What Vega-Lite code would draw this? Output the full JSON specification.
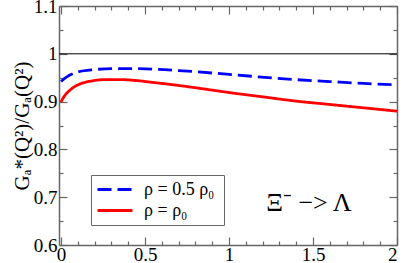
{
  "$schema": "https://vega.github.io/schema/vega-lite/v6.json",
  "width": 338,
  "height": 239,
  "autosize": "none",
  "padding": {"left": 59, "top": 6, "right": 5, "bottom": 18},
  "background": "white",
  "config": {
    "view": {"stroke": null},
    "font": "Liberation Serif",
    "axis": {
      "grid": false,
      "domainColor": "#666666",
      "tickColor": "#666666",
      "domainWidth": 1.5,
      "tickWidth": 1.2,
      "labelFont": "Liberation Serif",
      "titleFont": "Liberation Serif",
      "labelColor": "black",
      "titleColor": "black",
      "labelFontSize": 19,
      "titleFontSize": 21,
      "titleFontWeight": "normal"
    },
    "legend": {"labelFont": "Liberation Serif"}
  },
  "datasets": {
    "curves": [
      {"x": 0.0, "y": 0.942, "series": "ρ =  0.5 ρ₀"},
      {"x": 0.02, "y": 0.948, "series": "ρ =  0.5 ρ₀"},
      {"x": 0.05, "y": 0.955, "series": "ρ =  0.5 ρ₀"},
      {"x": 0.1, "y": 0.962, "series": "ρ =  0.5 ρ₀"},
      {"x": 0.2, "y": 0.967, "series": "ρ =  0.5 ρ₀"},
      {"x": 0.3, "y": 0.969, "series": "ρ =  0.5 ρ₀"},
      {"x": 0.4, "y": 0.969, "series": "ρ =  0.5 ρ₀"},
      {"x": 0.55, "y": 0.968, "series": "ρ =  0.5 ρ₀"},
      {"x": 0.7, "y": 0.965, "series": "ρ =  0.5 ρ₀"},
      {"x": 1.0, "y": 0.957, "series": "ρ =  0.5 ρ₀"},
      {"x": 1.35, "y": 0.947, "series": "ρ =  0.5 ρ₀"},
      {"x": 1.6, "y": 0.942, "series": "ρ =  0.5 ρ₀"},
      {"x": 1.8, "y": 0.938, "series": "ρ =  0.5 ρ₀"},
      {"x": 2.0, "y": 0.935, "series": "ρ =  0.5 ρ₀"},
      {"x": 0.0, "y": 0.899, "series": "ρ =  ρ₀"},
      {"x": 0.01, "y": 0.906, "series": "ρ =  ρ₀"},
      {"x": 0.03, "y": 0.916, "series": "ρ =  ρ₀"},
      {"x": 0.05, "y": 0.923, "series": "ρ =  ρ₀"},
      {"x": 0.08, "y": 0.931, "series": "ρ =  ρ₀"},
      {"x": 0.12, "y": 0.938, "series": "ρ =  ρ₀"},
      {"x": 0.18, "y": 0.943, "series": "ρ =  ρ₀"},
      {"x": 0.26, "y": 0.946, "series": "ρ =  ρ₀"},
      {"x": 0.35, "y": 0.946, "series": "ρ =  ρ₀"},
      {"x": 0.45, "y": 0.944, "series": "ρ =  ρ₀"},
      {"x": 0.55, "y": 0.940, "series": "ρ =  ρ₀"},
      {"x": 0.65, "y": 0.936, "series": "ρ =  ρ₀"},
      {"x": 0.8, "y": 0.929, "series": "ρ =  ρ₀"},
      {"x": 1.0, "y": 0.919, "series": "ρ =  ρ₀"},
      {"x": 1.2, "y": 0.910, "series": "ρ =  ρ₀"},
      {"x": 1.4, "y": 0.901, "series": "ρ =  ρ₀"},
      {"x": 1.6, "y": 0.894, "series": "ρ =  ρ₀"},
      {"x": 1.8, "y": 0.887, "series": "ρ =  ρ₀"},
      {"x": 2.0, "y": 0.880, "series": "ρ =  ρ₀"}
    ],
    "ref": [{"y": 1.0}],
    "note": [{"x": 1.476, "y": 0.688, "label": "Ξ⁻ −> Λ"}]
  },
  "resolve": {"axis": {"x": "independent", "y": "independent"}},
  "layer": [
    {
      "data": {"name": "ref"},
      "mark": {"type": "rule", "color": "black", "strokeWidth": 1},
      "encoding": {
        "y": {"field": "y", "type": "quantitative", "axis": null}
      }
    },
    {
      "data": {"name": "curves"},
      "mark": {"type": "line", "strokeWidth": 2.8, "interpolate": "monotone"},
      "encoding": {
        "x": {
          "field": "x", "type": "quantitative",
          "scale": {"domain": [-0.012, 2], "nice": false, "zero": false},
          "axis": {"orient": "bottom", "values": [0, 0.5, 1, 1.5, 2], "tickSize": -8, "labelPadding": 8, "format": "~g", "title": null, "labelFont": "Liberation Serif", "labelFontSize": 19}
        },
        "y": {
          "field": "y", "type": "quantitative",
          "scale": {"domain": [0.6, 1.1], "nice": false, "zero": false},
          "axis": {"orient": "left", "values": [0.6, 0.7, 0.8, 0.9, 1, 1.1], "tickSize": -8, "labelPadding": 10, "format": "~g", "title": "Gₐ*(Q²)/Gₐ(Q²)", "titlePadding": 1, "labelFont": "Liberation Serif", "labelFontSize": 19, "titleFont": "Liberation Serif", "titleFontSize": 21}
        },
        "color": {
          "field": "series", "type": "nominal",
          "scale": {"domain": ["ρ =  0.5 ρ₀", "ρ =  ρ₀"], "range": ["#0000ff", "#ff0000"]},
          "legend": {"orient": "none", "legendX": 32, "legendY": 169, "title": null, "symbolType": "stroke", "symbolSize": 1225, "symbolStrokeWidth": 2.8, "labelFont": "Liberation Serif", "labelFontSize": 18, "labelColor": "black", "strokeColor": "#666666", "padding": 5, "clipHeight": 19, "rowPadding": 2, "labelOffset": 10}
        },
        "strokeDash": {
          "field": "series", "type": "nominal",
          "scale": {"domain": ["ρ =  0.5 ρ₀", "ρ =  ρ₀"], "range": [[14, 6], [1, 0]]},
          "legend": {"orient": "none", "legendX": 32, "legendY": 169, "title": null, "symbolType": "stroke", "symbolSize": 1225, "symbolStrokeWidth": 2.8, "labelFont": "Liberation Serif", "labelFontSize": 18, "labelColor": "black", "strokeColor": "#666666", "padding": 5, "clipHeight": 19, "rowPadding": 2, "labelOffset": 10}
        }
      }
    },
    {
      "data": {"name": "curves"},
      "mark": {"type": "point", "opacity": 0},
      "encoding": {
        "x": {"field": "x", "type": "quantitative", "axis": {"orient": "top", "values": [0, 0.5, 1, 1.5, 2], "tickSize": -8, "labels": false, "title": null}},
        "y": {"field": "y", "type": "quantitative", "axis": {"orient": "right", "values": [0.6, 0.7, 0.8, 0.9, 1, 1.1], "tickSize": -8, "labels": false, "title": null}}
      }
    },
    {
      "data": {"name": "curves"},
      "mark": {"type": "point", "opacity": 0},
      "encoding": {
        "x": {"field": "x", "type": "quantitative", "axis": {"orient": "bottom", "values": [0.1, 0.2, 0.3, 0.4, 0.6, 0.7, 0.8, 0.9, 1.1, 1.2, 1.3, 1.4, 1.6, 1.7, 1.8, 1.9], "tickSize": -4, "labels": false, "domain": false, "title": null}},
        "y": {"field": "y", "type": "quantitative", "axis": {"orient": "left", "values": [0.65, 0.75, 0.85, 0.95, 1.05], "tickSize": -4, "labels": false, "domain": false, "title": null}}
      }
    },
    {
      "data": {"name": "curves"},
      "mark": {"type": "point", "opacity": 0},
      "encoding": {
        "x": {"field": "x", "type": "quantitative", "axis": {"orient": "top", "values": [0.1, 0.2, 0.3, 0.4, 0.6, 0.7, 0.8, 0.9, 1.1, 1.2, 1.3, 1.4, 1.6, 1.7, 1.8, 1.9], "tickSize": -4, "labels": false, "domain": false, "title": null}},
        "y": {"field": "y", "type": "quantitative", "axis": {"orient": "right", "values": [0.65, 0.75, 0.85, 0.95, 1.05], "tickSize": -4, "labels": false, "domain": false, "title": null}}
      }
    },
    {
      "data": {"name": "note"},
      "mark": {"type": "text", "font": "Liberation Serif", "fontSize": 26, "align": "center", "baseline": "middle", "color": "black"},
      "encoding": {
        "x": {"field": "x", "type": "quantitative", "axis": null},
        "y": {"field": "y", "type": "quantitative", "axis": null},
        "text": {"field": "label"}
      }
    }
  ]
}
